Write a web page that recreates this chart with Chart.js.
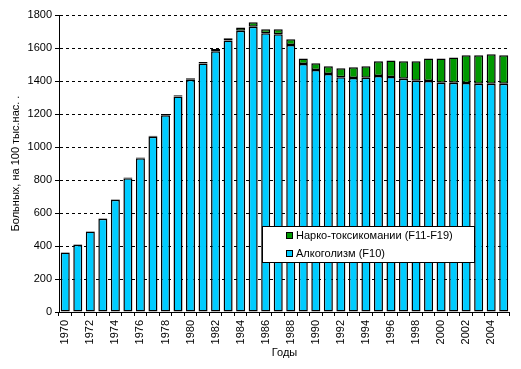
<!DOCTYPE html>
<html>
<head>
<meta charset="utf-8">
<script src="https://cdn.jsdelivr.net/npm/chart.js@4/dist/chart.umd.min.js"></script>
<style>
    html, body { margin: 0; padding: 0; background: #fff; }
    #wrap { width: 521px; height: 369px; }
</style>
</head>
<body>
<div id="wrap"><canvas id="chart" width="521" height="369"></canvas></div>
<script>
// Years on the x axis
var years = ['1970', '1971', '1972', '1973', '1974', '1975', '1976', '1977', '1978', '1979',
    '1980', '1981', '1982', '1983', '1984', '1985', '1986', '1987', '1988', '1989',
    '1990', '1991', '1992', '1993', '1994', '1995', '1996', '1997', '1998', '1999',
    '2000', '2001', '2002', '2003', '2004', '2005'];

// Alcoholism (F10), per 100 thousand
var alcohol = [360, 408, 488, 565, 680, 810, 932, 1062, 1193, 1306,
    1408, 1506, 1580, 1645, 1705, 1729, 1689, 1683, 1618, 1503,
    1467, 1442, 1422, 1418, 1420, 1430, 1424, 1414, 1402, 1400,
    1390, 1390, 1388, 1384, 1384, 1384];

// Drug and substance abuse (F11-F19), per 100 thousand
var narco = [2, 2, 2, 3, 3, 5, 5, 6, 7, 7,
    8, 9, 14, 14, 20, 27, 24, 30, 35, 34,
    40, 47, 55, 65, 69, 89, 101, 105, 117, 137,
    147, 153, 168, 172, 178, 172];

var yTicks = { min: 0, max: 1800, step: 200 };

var seriesNames = ['Алкоголизм (F10)', 'Нарко-токсикомании (F11-F19)'];
var seriesColors = ['#00CCFF', '#009900'];

var FONT = 'Liberation Sans, Arial, sans-serif';

// Legend box drawn inside the plot, green entry first like the original
var boxLegend = {
    id: 'boxLegend',
    afterDraw: function (chart) {
        var ctx = chart.ctx;
        var x = 262, y = 226, w = 212, h = 36;
        ctx.save();
        ctx.fillStyle = '#fff';
        ctx.fillRect(x, y, w, h);
        ctx.strokeStyle = '#000';
        ctx.lineWidth = 1;
        ctx.strokeRect(x + 0.5, y + 0.5, w, h);

        ctx.font = '11px ' + FONT;
        ctx.textBaseline = 'middle';
        var order = [1, 0];
        order.forEach(function (idx, row) {
            var cy = y + 10 + row * 18;
            ctx.fillStyle = seriesColors[idx];
            ctx.fillRect(x + 24, cy - 3, 6, 6);
            ctx.strokeStyle = '#000';
            ctx.strokeRect(x + 24.5, cy - 3.5, 6, 6);
            ctx.fillStyle = '#000';
            ctx.fillText(seriesNames[idx], x + 34, cy);
        });
        ctx.restore();
    }
};

var ctx = document.getElementById('chart').getContext('2d');
var myChart = new Chart(ctx, {
    type: 'bar',
    data: {
        labels: years,
        datasets: [{
            label: seriesNames[0],
            data: alcohol,
            backgroundColor: seriesColors[0],
            borderColor: '#000',
            borderWidth: 1.5,
            borderSkipped: false
        }, {
            label: seriesNames[1],
            data: narco,
            backgroundColor: seriesColors[1],
            borderColor: '#000',
            borderWidth: 1.5,
            borderSkipped: false
        }]
    },
    options: {
        responsive: false,
        animation: false,
        barPercentage: 0.72,
        categoryPercentage: 1,
        layout: { padding: { top: 15, right: 6, left: 0, bottom: 0 } },
        plugins: {
            legend: { display: false },
            tooltip: { enabled: false }
        },
        scales: {
            x: {
                stacked: true,
                grid: {
                    display: true,
                    drawOnChartArea: false,
                    offset: true,
                    color: '#000',
                    tickLength: 4
                },
                border: { display: true, color: '#000' },
                ticks: {
                    autoSkip: false,
                    minRotation: 90,
                    maxRotation: 90,
                    padding: 4,
                    color: '#000',
                    font: { family: FONT, size: 11 },
                    callback: function (value, index) {
                        return index % 2 === 0 ? years[index] : '';
                    }
                },
                title: {
                    display: true,
                    text: 'Годы',
                    color: '#000',
                    font: { family: FONT, size: 11 },
                    padding: { top: 0, bottom: 9 }
                },
                afterFit: function (scale) { scale.height = 57; }
            },
            y: {
                stacked: true,
                min: yTicks.min,
                max: yTicks.max,
                grid: {
                    color: '#000',
                    tickLength: 4
                },
                border: { display: true, color: '#000', dash: [3, 3] },
                ticks: {
                    stepSize: yTicks.step,
                    padding: 3,
                    color: '#000',
                    font: { family: FONT, size: 11 },
                    callback: function (value) { return String(value); }
                },
                title: {
                    display: true,
                    text: 'Больных, на 100 тыс.нас. .',
                    color: '#000',
                    font: { family: FONT, size: 11 },
                    padding: { top: 9, bottom: 0 }
                },
                afterFit: function (scale) { scale.width = 59; }
            }
        }
    },
    plugins: [boxLegend]
});
</script>
</body>
</html>
